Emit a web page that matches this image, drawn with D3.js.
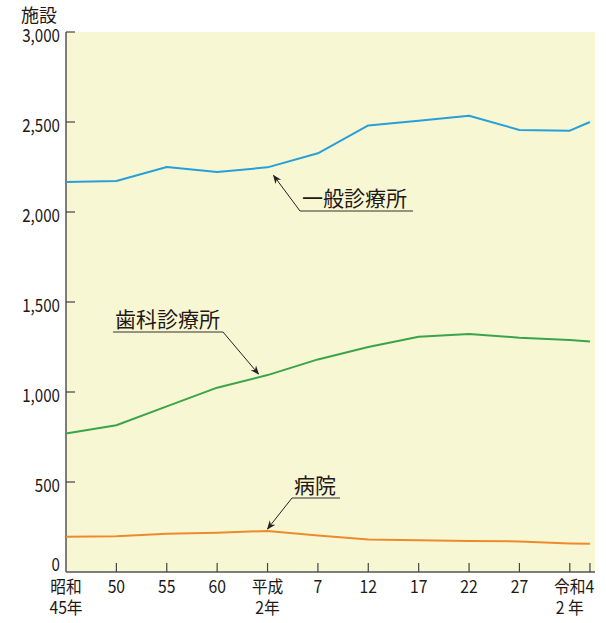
<!DOCTYPE html>
<html><head><meta charset="utf-8">
<script src="https://cdn.jsdelivr.net/npm/d3@7"></script>
<style>
html,body{margin:0;padding:0;background:#fff;}
text{font-family:"Noto Sans CJK JP","Noto Sans",sans-serif;fill:#231815;}
</style></head>
<body>
<svg id="c" width="606" height="623"></svg>
<script>
const years = [1970,1975,1980,1985,1990,1995,2000,2005,2010,2015,2020,2022];
const xLabels = [["昭和","45年"],["50"],["55"],["60"],["平成","2年"],["7"],["12"],["17"],["22"],["27"],["令和","2 年"],["4"]];
const yTicks = [0,500,1000,1500,2000,2500,3000];
const general = [2167,2172,2250,2222,2248,2326,2481,2507,2535,2456,2452,2500];
const dental  = [770,815,920,1024,1094,1181,1250,1307,1322,1302,1289,1280];
const hospital= [196,198,213,218,228,203,181,176,172,170,159,157];
const seriesNames = ["一般診療所","歯科診療所","病院"];
const colors = ["#27a0d9","#3aa548","#ef8a2b"];
const unitLabel = "施設";

const svg = d3.select("#c");
const L=66, R=595, T=32, B=572;
const x = d3.scaleLinear().domain([1970,2022.5]).range([L,R]);
const y = d3.scaleLinear().domain([0,3000]).range([B,T]);

svg.append("rect").attr("x",L).attr("y",T).attr("width",R-L).attr("height",B-T).attr("fill","#f8f7d4");

// y axis
const ya = svg.append("g");
ya.append("line").attr("x1",L).attr("x2",L).attr("y1",T).attr("y2",B).attr("stroke","#555").attr("stroke-width",1.5);
yTicks.forEach(v=>{
  if(v>0) ya.append("line").attr("x1",L).attr("x2",L+9).attr("y1",y(v)).attr("y2",y(v)).attr("stroke","#444").attr("stroke-width",1.2);
  const ty = v===0 ? y(v)-9 : y(v)+2;
  ya.append("text").attr("transform",`translate(60,${ty}) scale(0.82,1)`)
    .attr("text-anchor","end").attr("dominant-baseline","central")
    .attr("font-size",18.5).text(d3.format(",")(v));
});
svg.append("text").attr("x",21).attr("y",22).attr("font-size",18).text(unitLabel);

// x axis
const xa = svg.append("g");
xa.append("line").attr("x1",L).attr("x2",R).attr("y1",B).attr("y2",B).attr("stroke","#555").attr("stroke-width",1.5);
years.forEach((yr,i)=>{
  const px = x(yr);
  if(i>0) xa.append("line").attr("x1",px).attr("x2",px).attr("y1",B).attr("y2",B-9).attr("stroke","#444").attr("stroke-width",1.2);
  const t = xa.append("text").attr("transform",`translate(${px},593) scale(0.9,1)`)
    .attr("text-anchor","middle").attr("font-size",17.5);
  xLabels[i].forEach((s,j)=>{
    t.append("tspan").attr("x",0).attr("dy",j===0?0:21).text(s);
  });
});

// lines
const data=[general,dental,hospital];
const line = d3.line().x((d,i)=>x(years[i])).y(d=>y(d));
data.forEach((s,k)=>{
  svg.append("path").datum(s).attr("d",line).attr("fill","none")
    .attr("stroke",colors[k]).attr("stroke-width",2).attr("stroke-linejoin","round");
});

// arrow marker
const defs = svg.append("defs");
defs.append("marker").attr("id","ah").attr("viewBox","0 0 10 10").attr("refX",9).attr("refY",5)
  .attr("markerWidth",9).attr("markerHeight",9).attr("orient","auto").attr("markerUnits","userSpaceOnUse")
  .append("path").attr("d","M0,1 L10,5 L0,9 L3,5 Z").attr("fill","#222");

function annotate(name, tx, uy, w, tipX, tipY, startLeft){
  const g = svg.append("g");
  g.append("text").attr("x",tx+2).attr("y",uy-5).attr("font-size",21).text(name);
  g.append("line").attr("x1",tx).attr("x2",tx+w).attr("y1",uy).attr("y2",uy).attr("stroke","#333").attr("stroke-width",1);
  const sx = startLeft ? tx : tx+w;
  g.append("line").attr("x1",sx).attr("y1",uy).attr("x2",tipX).attr("y2",tipY)
    .attr("stroke","#222").attr("stroke-width",1).attr("marker-end","url(#ah)");
}
const i90 = years.indexOf(1990);
annotate(seriesNames[0], 300, 211, 113, x(1990)+6, y(general[i90])+8, true);
annotate(seriesNames[1], 113, 332, 110, x(1990)-9, y(dental[i90])-1, false);
annotate(seriesNames[2], 292, 498, 48, x(1990), y(hospital[i90])-2, true);
</script>
</body></html>
